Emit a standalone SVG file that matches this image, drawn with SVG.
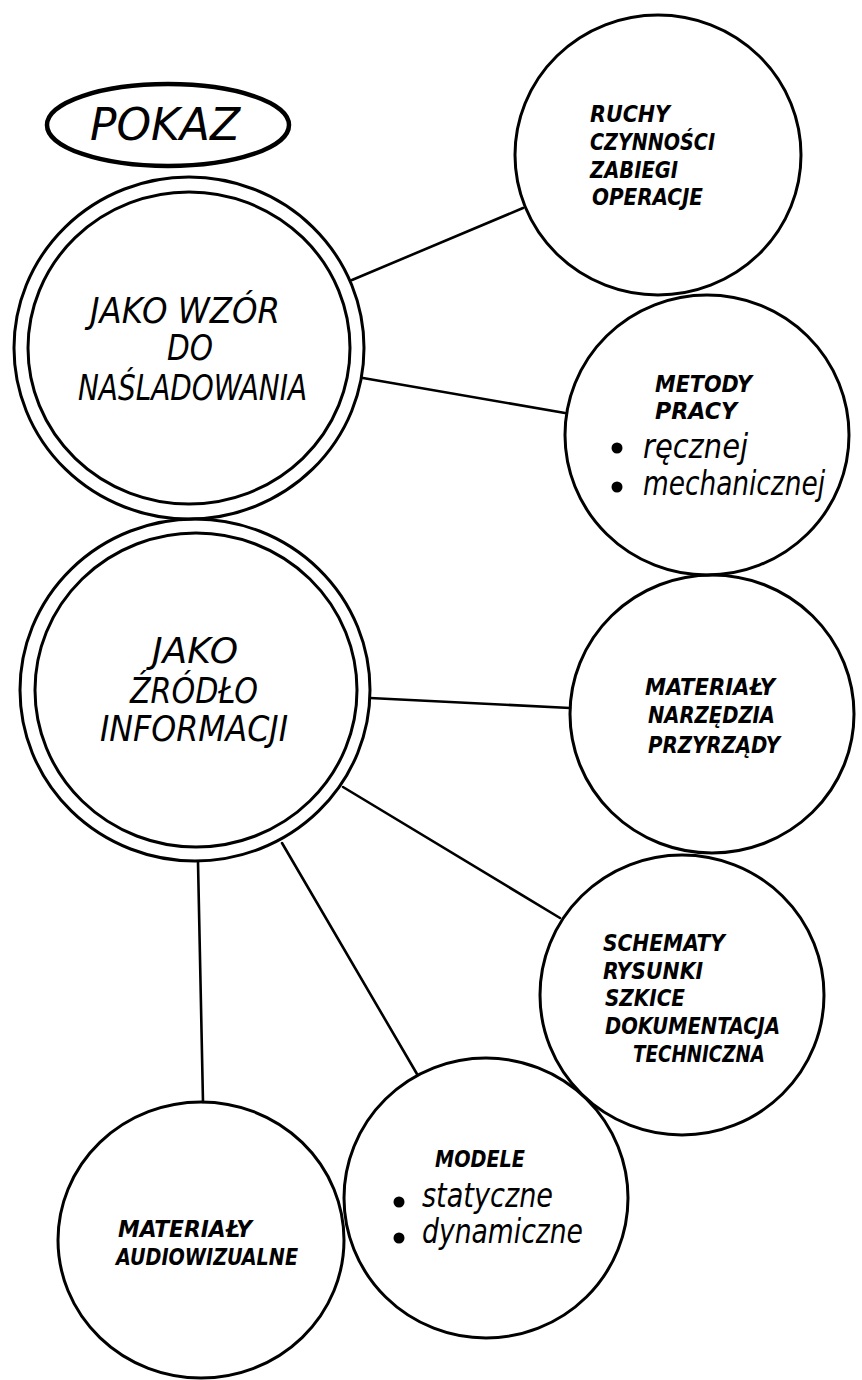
<svg xmlns="http://www.w3.org/2000/svg" width="862" height="1380" viewBox="0 0 862 1380">
<style>
  .bg { fill: #ffffff; }
  .node { fill: none; stroke: #000; stroke-width: 3; }
  .thick { fill: none; stroke: #000; stroke-width: 4.5; }
  .conn { stroke: #000; stroke-width: 2.6; fill: none; stroke-linecap: round; }
  .big { font-family: "DejaVu Sans Condensed", "DejaVu Sans", sans-serif; font-style: oblique; font-size: 36px; fill: #000; }
  .title { font-family: "DejaVu Sans Condensed", "DejaVu Sans", sans-serif; font-style: oblique; font-size: 45px; fill: #000; }
  .small { font-family: "DejaVu Sans Condensed", "DejaVu Sans", sans-serif; font-style: oblique; font-weight: bold; font-size: 23px; fill: #000; }
  .lower { font-family: "DejaVu Sans Condensed", "DejaVu Sans", sans-serif; font-style: oblique; font-size: 33px; fill: #000; }
  .dot { fill: #000; }
</style>
<rect class="bg" x="0" y="0" width="862" height="1380"/>

<g id="connectors">
  <line class="conn" x1="352" y1="280" x2="523" y2="208"/>
  <line class="conn" x1="363" y1="378" x2="565" y2="413"/>
  <line class="conn" x1="370" y1="698" x2="570" y2="708"/>
  <line class="conn" x1="343" y1="787" x2="560" y2="918"/>
  <line class="conn" x1="282" y1="843" x2="417" y2="1074"/>
  <line class="conn" x1="198" y1="862" x2="203" y2="1102"/>
</g>

<g id="pokaz">
  <ellipse class="thick" cx="168" cy="125" rx="121" ry="41"/>
  <text class="title" x="90" y="140" textLength="150" lengthAdjust="spacingAndGlyphs">POKAZ</text>
</g>

<g id="wzor">
  <ellipse class="node" cx="189" cy="348" rx="175" ry="171"/>
  <ellipse class="node" cx="189" cy="348" rx="161" ry="156"/>
  <text class="big" x="90" y="323" textLength="190" lengthAdjust="spacingAndGlyphs">JAKO WZÓR</text>
  <text class="big" x="167" y="360" textLength="46" lengthAdjust="spacingAndGlyphs">DO</text>
  <text class="big" x="78" y="400" textLength="229" lengthAdjust="spacingAndGlyphs">NAŚLADOWANIA</text>
</g>

<g id="zrodlo">
  <ellipse class="node" cx="195" cy="690" rx="175" ry="171"/>
  <ellipse class="node" cx="196" cy="690" rx="161" ry="157"/>
  <text class="big" x="152" y="663" textLength="86" lengthAdjust="spacingAndGlyphs">JAKO</text>
  <text class="big" x="130" y="703" textLength="128" lengthAdjust="spacingAndGlyphs">ŹRÓDŁO</text>
  <text class="big" x="100" y="741" textLength="188" lengthAdjust="spacingAndGlyphs">INFORMACJI</text>
</g>

<g id="ruchy">
  <ellipse class="node" cx="658" cy="155" rx="143" ry="140"/>
  <text class="small" x="590" y="122" textLength="80" lengthAdjust="spacingAndGlyphs">RUCHY</text>
  <text class="small" x="590" y="150" textLength="125" lengthAdjust="spacingAndGlyphs">CZYNNOŚCI</text>
  <text class="small" x="590" y="178" textLength="88" lengthAdjust="spacingAndGlyphs">ZABIEGI</text>
  <text class="small" x="592" y="205" textLength="111" lengthAdjust="spacingAndGlyphs">OPERACJE</text>
</g>

<g id="metody">
  <ellipse class="node" cx="707" cy="435" rx="142" ry="140"/>
  <text class="small" x="655" y="392" textLength="97" lengthAdjust="spacingAndGlyphs">METODY</text>
  <text class="small" x="655" y="419" textLength="82" lengthAdjust="spacingAndGlyphs">PRACY</text>
  <circle class="dot" cx="617" cy="448" r="5.5"/>
  <text class="lower" x="643" y="458" textLength="105" lengthAdjust="spacingAndGlyphs">ręcznej</text>
  <circle class="dot" cx="617" cy="487" r="5.5"/>
  <text class="lower" x="643" y="495" textLength="182" lengthAdjust="spacingAndGlyphs">mechanicznej</text>
</g>

<g id="materialy">
  <ellipse class="node" cx="712" cy="714" rx="142" ry="139"/>
  <text class="small" x="645" y="695" textLength="130" lengthAdjust="spacingAndGlyphs">MATERIAŁY</text>
  <text class="small" x="648" y="723" textLength="127" lengthAdjust="spacingAndGlyphs">NARZĘDZIA</text>
  <text class="small" x="648" y="753" textLength="132" lengthAdjust="spacingAndGlyphs">PRZYRZĄDY</text>
</g>

<g id="schematy">
  <ellipse class="node" cx="682" cy="995" rx="142" ry="140"/>
  <text class="small" x="603" y="951" textLength="122" lengthAdjust="spacingAndGlyphs">SCHEMATY</text>
  <text class="small" x="603" y="979" textLength="100" lengthAdjust="spacingAndGlyphs">RYSUNKI</text>
  <text class="small" x="605" y="1006" textLength="80" lengthAdjust="spacingAndGlyphs">SZKICE</text>
  <text class="small" x="605" y="1034" textLength="175" lengthAdjust="spacingAndGlyphs">DOKUMENTACJA</text>
  <text class="small" x="633" y="1062" textLength="132" lengthAdjust="spacingAndGlyphs">TECHNICZNA</text>
</g>

<g id="modele">
  <ellipse class="node" cx="486" cy="1198" rx="142" ry="140"/>
  <text class="small" x="435" y="1167" textLength="90" lengthAdjust="spacingAndGlyphs">MODELE</text>
  <circle class="dot" cx="399" cy="1202" r="5.5"/>
  <text class="lower" x="422" y="1207" textLength="131" lengthAdjust="spacingAndGlyphs">statyczne</text>
  <circle class="dot" cx="399" cy="1238" r="5.5"/>
  <text class="lower" x="422" y="1243" textLength="161" lengthAdjust="spacingAndGlyphs">dynamiczne</text>
</g>

<g id="audiowizualne">
  <ellipse class="node" cx="201" cy="1240" rx="143" ry="138"/>
  <text class="small" x="118" y="1237" textLength="134" lengthAdjust="spacingAndGlyphs">MATERIAŁY</text>
  <text class="small" x="116" y="1265" textLength="182" lengthAdjust="spacingAndGlyphs">AUDIOWIZUALNE</text>
</g>
</svg>
